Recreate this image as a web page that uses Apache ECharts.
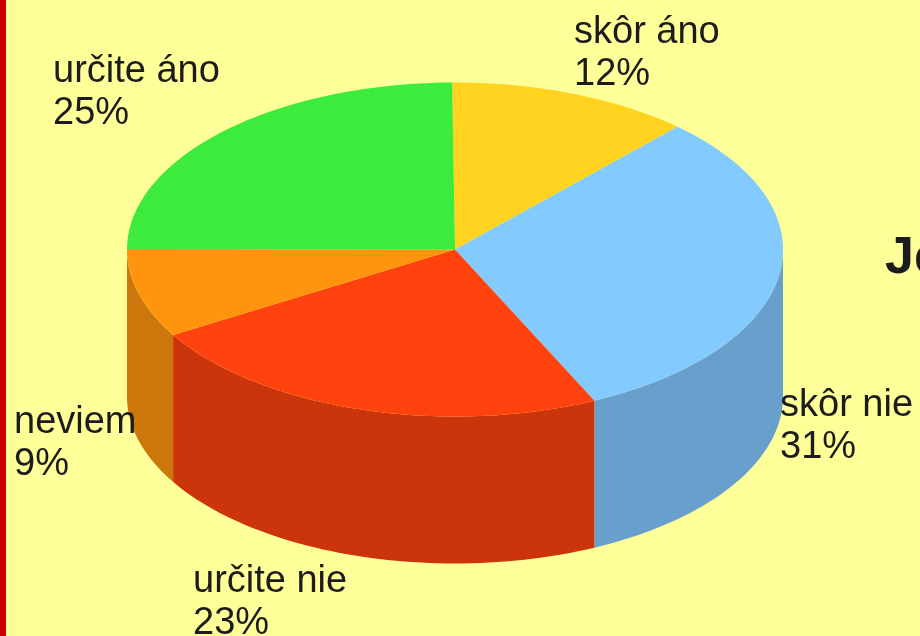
<!DOCTYPE html>
<html>
<head>
<meta charset="utf-8">
<style>html,body{margin:0;padding:0;background:#ffff99;overflow:hidden}#c{width:920px;height:636px}</style>
<script src="https://cdn.jsdelivr.net/npm/echarts@6/dist/echarts.min.js"></script>
</head>
<body>
<div id="c"></div>
<script>
const categories = ['skôr áno', 'skôr nie', 'určite nie', 'neviem', 'určite áno'];
const values = [12, 31.15, 23.45, 8.5, 24.9];
const percentLabels = ['12%', '31%', '23%', '9%', '25%'];
const topColors = ['#ffd320', '#83caff', '#ff420e', '#ff950e', '#3ceb3c'];
const sideColors = ['#cca81a', '#699fcc', '#cc350b', '#cc770b', '#30bc30'];
const labelAnchors = [[574, 12], [780, 385], [193, 561], [14, 402], [53, 51]];
const titleText = 'Je';

const START_DEG = -0.5;   // first slice starts just left of 12 o'clock
const DEPTH = 0.88;       // extrusion, in radius units of the y axis
const total = values.reduce((a, b) => a + b, 0);
let acc = 0;
const sliceData = values.map((v, i) => {
  const a0 = START_DEG + acc / total * 360;
  acc += v;
  return { name: categories[i], value: [a0, START_DEG + acc / total * 360, i] };
});
const rad = d => d * Math.PI / 180;
const rim = (d, drop) => [Math.sin(rad(d)), Math.cos(rad(d)) - drop];

function sweep(a0, a1) {
  const n = Math.max(2, Math.ceil((a1 - a0) / 1.5));
  const out = [];
  for (let k = 0; k <= n; k++) out.push(a0 + (a1 - a0) * k / n);
  return out;
}
function renderTop(params, api) {
  const a0 = api.value(0), a1 = api.value(1), i = api.value(2);
  const pts = [api.coord([0, 0])].concat(sweep(a0, a1).map(d => api.coord(rim(d, 0))));
  return { type: 'polygon', shape: { points: pts }, style: { fill: topColors[i] } };
}
function renderSide(params, api) {
  const i = api.value(2);
  const a0 = Math.max(api.value(0), 90), a1 = Math.min(api.value(1), 270);
  if (a1 <= a0) return null;
  const degs = sweep(a0, a1);
  const pts = degs.map(d => api.coord(rim(d, 0)))
    .concat(degs.slice().reverse().map(d => api.coord(rim(d, DEPTH))));
  return { type: 'polygon', shape: { points: pts }, style: { fill: sideColors[i] } };
}
const textStyle = { font: '38px "Liberation Sans", Arial, sans-serif', fill: '#1c1c1c', lineHeight: 42 };
const chart = echarts.init(document.getElementById('c'), null, { renderer: 'canvas' });
chart.setOption({
  animation: false,
  backgroundColor: '#ffff99',
  title: { text: titleText, left: 880, top: 228,
    textStyle: { fontFamily: '"Liberation Sans", Arial, sans-serif', fontWeight: 'bold', fontSize: 52, color: '#1c1c1c' } },
  grid: { left: 127, top: 82.5, width: 656, height: 481 },
  xAxis: { type: 'value', min: -1, max: 1, show: false },
  yAxis: { type: 'value', min: -1 - DEPTH, max: 1, show: false },
  tooltip: { show: false },
  series: [
    { type: 'custom', name: 'side', coordinateSystem: 'cartesian2d', clip: false, z: 2, silent: true,
      renderItem: renderSide, data: sliceData, encode: { x: 0, y: 1 } },
    { type: 'custom', name: 'top', coordinateSystem: 'cartesian2d', clip: false, z: 3, silent: true,
      renderItem: renderTop, data: sliceData, encode: { x: 0, y: 1 } }
  ],
  graphic: [
    { type: 'rect', shape: { x: 0, y: 0, width: 6, height: 636 }, style: { fill: '#cc0000' }, z: 1 }
  ].concat(categories.map((c, i) => ({
    type: 'text', x: labelAnchors[i][0], y: labelAnchors[i][1], z: 10,
    style: Object.assign({ text: c + '\n' + percentLabels[i] }, textStyle)
  })))
});
</script>
</body>
</html>
